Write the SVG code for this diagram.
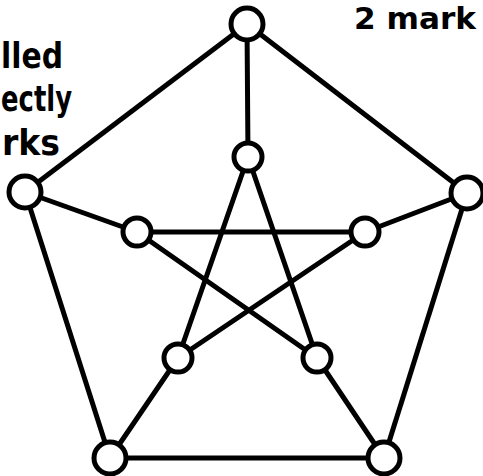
<svg xmlns="http://www.w3.org/2000/svg" width="483" height="476" viewBox="0 0 483 476">
<style>
.e{stroke:#000;stroke-width:5;fill:none;stroke-linecap:round}
.n{fill:#fff;stroke:#000;stroke-width:5}
.t{font-family:"DejaVu Sans",Verdana,sans-serif;font-weight:bold;fill:#000}
</style>
<rect width="483" height="476" fill="#fff"/>
<g id="labels">
<text class="t" x="1" y="68" font-size="35" textLength="62" lengthAdjust="spacingAndGlyphs">lled</text>
<text class="t" x="1" y="111" font-size="35" textLength="71" lengthAdjust="spacingAndGlyphs">ectly</text>
<text class="t" x="2" y="155" font-size="35" textLength="58" lengthAdjust="spacingAndGlyphs">rks</text>
<text class="t" x="354" y="29" font-size="30" textLength="122" lengthAdjust="spacingAndGlyphs">2 mark</text>
</g>
<g id="connectors">
<line class="e" x1="247" y1="24" x2="25" y2="192"/>
<line class="e" x1="247" y1="24" x2="467" y2="193"/>
<line class="e" x1="25" y1="192" x2="110" y2="458"/>
<line class="e" x1="467" y1="193" x2="384" y2="458"/>
<line class="e" x1="110" y1="458" x2="384" y2="458"/>
<line class="e" x1="247" y1="24" x2="248" y2="157"/>
<line class="e" x1="25" y1="192" x2="137" y2="232"/>
<line class="e" x1="467" y1="193" x2="365" y2="232"/>
<line class="e" x1="110" y1="458" x2="178" y2="358"/>
<line class="e" x1="384" y1="458" x2="317" y2="358"/>
<line class="e" x1="248" y1="157" x2="178" y2="358"/>
<line class="e" x1="248" y1="157" x2="317" y2="358"/>
<line class="e" x1="137" y1="232" x2="365" y2="232"/>
<line class="e" x1="137" y1="232" x2="317" y2="358"/>
<line class="e" x1="365" y1="232" x2="178" y2="358"/>
</g>
<g id="n0"><circle class="n" cx="247" cy="24" r="16"/></g>
<g id="n1"><circle class="n" cx="25" cy="192" r="16"/></g>
<g id="n2"><circle class="n" cx="467" cy="193" r="16"/></g>
<g id="n3"><circle class="n" cx="110" cy="458" r="16"/></g>
<g id="n4"><circle class="n" cx="384" cy="458" r="16"/></g>
<g id="n5"><circle class="n" cx="248" cy="157" r="14"/></g>
<g id="n6"><circle class="n" cx="137" cy="232" r="14"/></g>
<g id="n7"><circle class="n" cx="365" cy="232" r="14"/></g>
<g id="n8"><circle class="n" cx="178" cy="358" r="14"/></g>
<g id="n9"><circle class="n" cx="317" cy="358" r="14"/></g>
</svg>
